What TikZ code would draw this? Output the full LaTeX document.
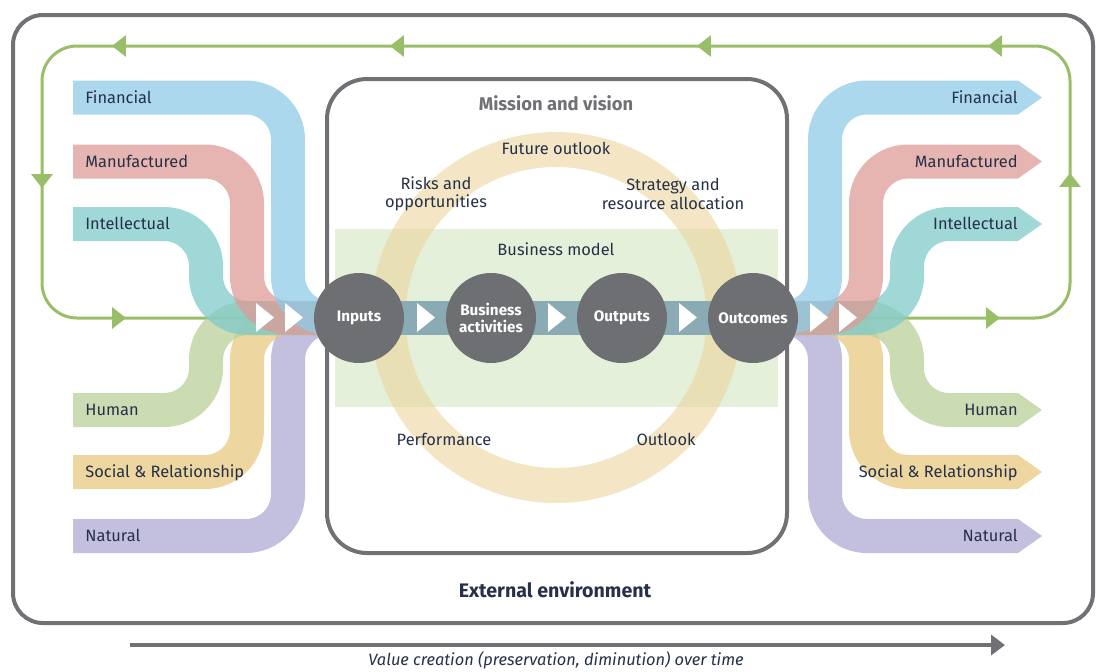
\documentclass[tikz,border=0pt]{standalone}
\usepackage{fontspec}
\setmainfont{Fira Sans}
\usetikzlibrary{arrows.meta,backgrounds,decorations.markings}

\definecolor{envgray}{RGB}{112,112,117}
\definecolor{loopgreen}{RGB}{152,190,104}
\definecolor{labelnavy}{RGB}{38,48,72}
\definecolor{capgray}{RGB}{110,111,115}
\definecolor{flowteal}{RGB}{138,171,179}
\definecolor{modelgreen}{RGB}{228,240,218}
\definecolor{ringsand}{RGB}{236,214,156}
\definecolor{finblue}{RGB}{143,203,231}
\definecolor{manupink}{RGB}{222,155,151}
\definecolor{intelteal}{RGB}{128,203,203}
\definecolor{humgreen}{RGB}{186,207,152}
\definecolor{socsand}{RGB}{232,200,128}
\definecolor{natlilac}{RGB}{175,171,212}

\tikzset{
  capitalband/.style={line width=17pt, rounded corners=21pt, draw opacity=0.75, draw=#1},
  bandtip/.style={fill=#1, fill opacity=0.75},
  capitallabel/.style={font=\fontsize{8.2}{10}\selectfont, text=labelnavy, inner sep=0pt,
    text height=5.7pt, text depth=0pt},
  bodytext/.style={font=\fontsize{8.2}{9.2}\selectfont, text=labelnavy, inner sep=0pt, align=center},
  stagenode/.style={circle, fill=capgray, minimum size=45pt, inner sep=0pt, align=center,
    text=white, font=\fontsize{7.6}{8.6}\selectfont\bfseries},
  framebox/.style={draw=envgray, line width=2pt},
  valueloop/.style={color=loopgreen, line width=1.5pt, rounded corners=17.5pt,
    decoration={markings,
      mark=at position 71pt with {\arrow{Triangle[length=7pt,width=10.5pt]}},
      mark=at position 171pt with {\arrow{Triangle[length=7pt,width=10.5pt]}},
      mark=at position 268pt with {\arrow{Triangle[length=7pt,width=10.5pt]}},
      mark=at position 413.5pt with {\arrow{Triangle[length=7pt,width=10.5pt]}},
      mark=at position 567pt with {\arrow{Triangle[length=7pt,width=10.5pt]}},
      mark=at position 706pt with {\arrow{Triangle[length=7pt,width=10.5pt]}},
      mark=at position 804.5pt with {\arrow{Triangle[length=7pt,width=10.5pt]}},
      mark=at position 904pt with {\arrow{Triangle[length=7pt,width=10.5pt]}}},
    postaction={decorate}},
  flowstrip/.style={draw=flowteal, line width=17pt},
  timeline/.style={draw=envgray, line width=2pt, -{Triangle[length=7pt,width=10pt]}}
}

\begin{document}
\begin{tikzpicture}[x=0.5pt,y=-0.5pt]
  \useasboundingbox (0,0) rectangle (1096,671);

  % the four stages of the business model
  \node[stagenode] (inputs) at (359,318) {Inputs};
  \node[stagenode] (activities) at (491,318) {Business\\activities};
  \node[stagenode] (outputs) at (622,318) {Outputs};
  \node[stagenode] (outcomes) at (753,318) {Outcomes};

  \coordinate (loopin) at (256,318);
  \coordinate (loopout) at (858,318);
  \coordinate (tstart) at (130,645);
  \coordinate (tend) at (1005,645);

  \begin{scope}[on background layer]
    % frames
    \draw[framebox, rounded corners=15pt] (13,15) rectangle (1093,623);
    \draw[valueloop] (loopout) -- (1070,318) -- (1070,46) -- (42,46) -- (42,318) -- (loopin);
    \draw[framebox, rounded corners=20pt] (327,79) rectangle (787,553);
    \fill[modelgreen] (335,229) rectangle (778,407);
    \draw[ringsand, line width=17.5pt, draw opacity=0.6] (556,317.5) circle (84pt);

    % capitals going in
    \draw[capitalband=natlilac] (73,536) -- (288,536) -- (288,318) -- (inputs.center);
    \draw[capitalband=socsand] (73,472) -- (247,472) -- (247,318) -- (inputs.center);
    \draw[capitalband=humgreen] (73,410) -- (206,410) -- (206,318) -- (inputs.center);
    \draw[capitalband=intelteal] (73,224) -- (206,224) -- (206,318) -- (inputs.center);
    \draw[capitalband=manupink] (73,161.5) -- (247,161.5) -- (247,318) -- (inputs.center);
    \draw[capitalband=finblue] (73,97.5) -- (288,97.5) -- (288,318) -- (inputs.center);

    % capitals coming out
    \draw[capitalband=natlilac] (outcomes.center) -- (825,318) -- (825,536) -- (1018,536);
    \fill[bandtip=natlilac] (1018,519) -- (1042,536) -- (1018,553) -- cycle;
    \draw[capitalband=socsand] (outcomes.center) -- (866,318) -- (866,472) -- (1018,472);
    \fill[bandtip=socsand] (1018,455) -- (1042,472) -- (1018,489) -- cycle;
    \draw[capitalband=humgreen] (outcomes.center) -- (907,318) -- (907,410) -- (1018,410);
    \fill[bandtip=humgreen] (1018,393) -- (1042,410) -- (1018,427) -- cycle;
    \draw[capitalband=intelteal] (outcomes.center) -- (907,318) -- (907,224) -- (1018,224);
    \fill[bandtip=intelteal] (1018,207) -- (1042,224) -- (1018,241) -- cycle;
    \draw[capitalband=manupink] (outcomes.center) -- (866,318) -- (866,161.5) -- (1018,161.5);
    \fill[bandtip=manupink] (1018,144.5) -- (1042,161.5) -- (1018,178.5) -- cycle;
    \draw[capitalband=finblue] (outcomes.center) -- (825,318) -- (825,97.5) -- (1018,97.5);
    \fill[bandtip=finblue] (1018,80.5) -- (1042,97.5) -- (1018,114.5) -- cycle;

    \draw[flowstrip] (inputs.center) -- (outcomes.center);
    \foreach \x in {256,285,417,548,679,810,839}
      \fill[white] (\x,303) -- (\x+18,317.5) -- (\x,332) -- cycle;
  \end{scope}

  % labels
  \node[capitallabel, anchor=west] (finin) at (85,97.5) {Financial};
  \node[capitallabel, anchor=west] (manuin) at (85,161.5) {Manufactured};
  \node[capitallabel, anchor=west] (intelin) at (85,224) {Intellectual};
  \node[capitallabel, anchor=west] (humin) at (85,410) {Human};
  \node[capitallabel, anchor=west] (socin) at (85,472) {Social \& Relationship};
  \node[capitallabel, anchor=west] (natin) at (85,536) {Natural};
  \node[capitallabel, anchor=east] (finout) at (1018,97.5) {Financial};
  \node[capitallabel, anchor=east] (manuout) at (1018,161.5) {Manufactured};
  \node[capitallabel, anchor=east] (intelout) at (1018,224) {Intellectual};
  \node[capitallabel, anchor=east] (humout) at (1018,410) {Human};
  \node[capitallabel, anchor=east] (socout) at (1018,472) {Social \& Relationship};
  \node[capitallabel, anchor=east] (natout) at (1018,536) {Natural};

  \node[capitallabel, text=envgray, font=\fontsize{9.2}{10}\selectfont\bfseries] (mission) at (556,105) {Mission and vision};
  \node[capitallabel] (future) at (556,149) {Future outlook};
  \node[bodytext] (risks) at (436,194) {Risks and\\opportunities};
  \node[bodytext] (strategy) at (673,194) {Strategy and\\resource allocation};
  \node[capitallabel] (model) at (556,250) {Business model};
  \node[capitallabel] (performance) at (444,440) {Performance};
  \node[capitallabel] (outlook) at (666,440) {Outlook};
  \node[capitallabel, font=\fontsize{9.8}{11}\selectfont\bfseries] (external) at (555,592) {External environment};

  \draw[timeline] (tstart) -- (tend);
  \node[capitallabel, font=\fontsize{8.2}{10}\itshape, anchor=base] (valuetime) at (556,665) {Value creation (preservation, diminution) over time};
\end{tikzpicture}
\end{document}
